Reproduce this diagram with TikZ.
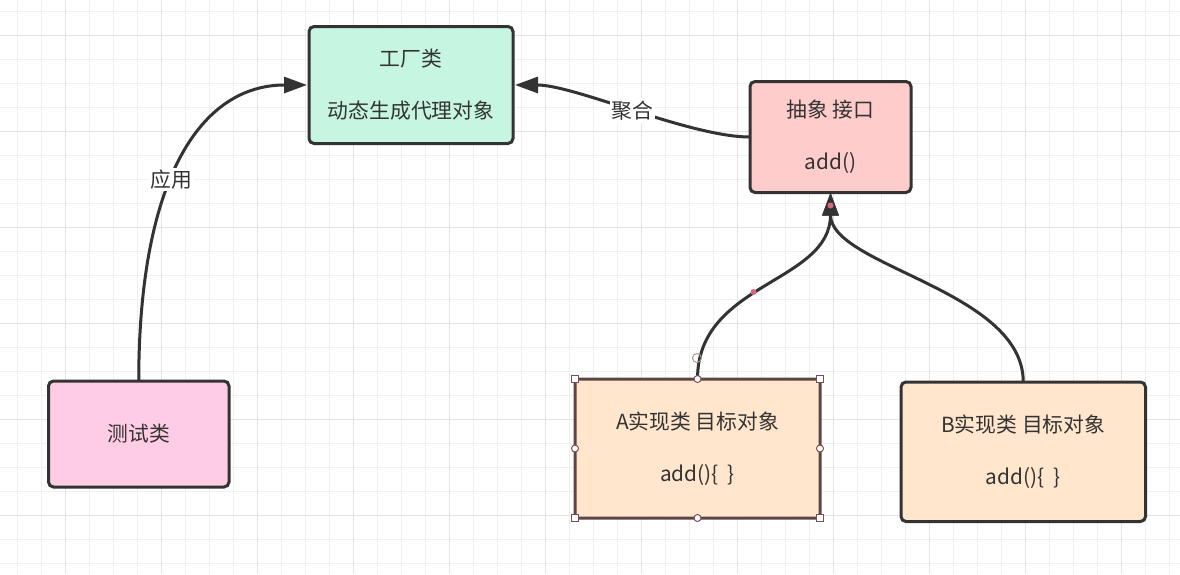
\documentclass[tikz,border=0pt]{standalone}
\usepackage{fontspec}
\setmainfont{Noto Sans CJK SC}
\usetikzlibrary{arrows.meta}
\definecolor{txt}{HTML}{333333}
\definecolor{edge}{HTML}{333333}
\definecolor{mint}{HTML}{C6F5E2}
\definecolor{rose}{HTML}{FFCCCC}
\definecolor{pinkb}{HTML}{FFCCE6}
\definecolor{peach}{HTML}{FFE6CC}
\definecolor{gridminor}{HTML}{F0F0F0}
\definecolor{gridmajor}{HTML}{E4E4E4}
\definecolor{handle}{HTML}{7A4F4F}
\definecolor{dotc}{HTML}{D8697D}
\tikzset{
  boxnode/.style={draw=edge, line width=3pt, rounded corners=5pt, outer sep=0pt,
    inner sep=0pt, align=center, text=txt,
    font=\fontsize{20.8pt}{26pt}\selectfont},
  conn/.style={draw=edge, line width=3pt, -{Triangle[length=23pt,width=16pt]}},
  lbl/.style={fill=white, text=txt, inner sep=2pt, font=\fontsize{20.8pt}{24pt}\selectfont},
  sqhandle/.style={draw=handle, fill=white, line width=1pt, minimum size=7pt, inner sep=0pt},
  cihandle/.style={draw=handle, fill=white, line width=1pt, circle, minimum size=7pt, inner sep=0pt},
}
\begin{document}
\begin{tikzpicture}[x=1pt,y=-1pt]
\useasboundingbox (0,0) rectangle (1180,574);
\fill[white] (0,0) rectangle (1180,574);
% grid
\foreach \i in {0,...,48} {
  \draw[gridminor, line width=1pt] ({17.3+24*\i},0) -- ({17.3+24*\i},574);
}
\foreach \i in {0,...,23} {
  \draw[gridminor, line width=1pt] (0,{11.3+24*\i}) -- (1180,{11.3+24*\i});
}
\foreach \i in {0,...,11} {
  \draw[gridmajor, line width=1pt] ({65.3+96*\i},0) -- ({65.3+96*\i},574);
}
\foreach \i in {0,...,5} {
  \draw[gridmajor, line width=1pt] (0,{35.3+96*\i}) -- (1180,{35.3+96*\i});
}

% boxes
\node[boxnode, fill=mint, minimum width=204pt, minimum height=117pt] (factory) at (411,85)
  {工厂类\\[26pt]动态生成代理对象};
\node[boxnode, fill=rose, minimum width=161pt, minimum height=111pt] (iface) at (830.5,137)
  {抽象 接口\\[26pt]add()};
\node[boxnode, fill=pinkb, minimum width=180.5pt, minimum height=106pt] (test) at (138.75,434)
  {测试类};
\node[boxnode, fill=peach, draw=handle!60!edge, rounded corners=1pt, minimum width=245pt, minimum height=139pt] (implA) at (697.5,448.5)
  {A实现类 目标对象\\[26pt]add()\{~~\}};
\node[boxnode, fill=peach, minimum width=244.5pt, minimum height=139.5pt] (implB) at (1023.25,451.75)
  {B实现类 目标对象\\[26pt]add()\{~~\}};

% connectors
\draw[conn] (test.north) .. controls +(0,-201) and +(-107,0) .. ([xshift=-2pt]factory.west)
  node[lbl, pos=0.43] {应用};
\draw[conn] (iface.west) .. controls +(-60,0) and +(60,0) .. ([xshift=2pt]factory.east)
  node[lbl, pos=0.5] {聚合};
\draw[conn] (implA.north) .. controls +(0,-97) and +(0,91) .. (iface.south);
\draw[conn] (implB.north) .. controls +(0,-92) and +(0,74) .. (iface.south);

% selection handles on A
\node[sqhandle] (hA1) at (implA.north west) {};
\node[sqhandle] (hA2) at (implA.north east) {};
\node[sqhandle] (hA3) at (implA.south west) {};
\node[sqhandle] (hA4) at (implA.south east) {};
\node[cihandle] (hA5) at (implA.north) {};
\node[cihandle] (hA6) at (implA.south) {};
\node[cihandle] (hA7) at (implA.west) {};
\node[cihandle] (hA8) at (implA.east) {};
\node[circle, draw=handle!60!white, line width=1pt, minimum size=9pt, inner sep=0pt] (term) at (697,358) {};
\node[circle, fill=dotc, minimum size=6pt, inner sep=0pt] (mid) at (753.5,292) {};
\node[circle, fill=dotc, minimum size=6pt, inner sep=0pt] (tipdot) at (830.5,205.5) {};
\end{tikzpicture}
\end{document}
